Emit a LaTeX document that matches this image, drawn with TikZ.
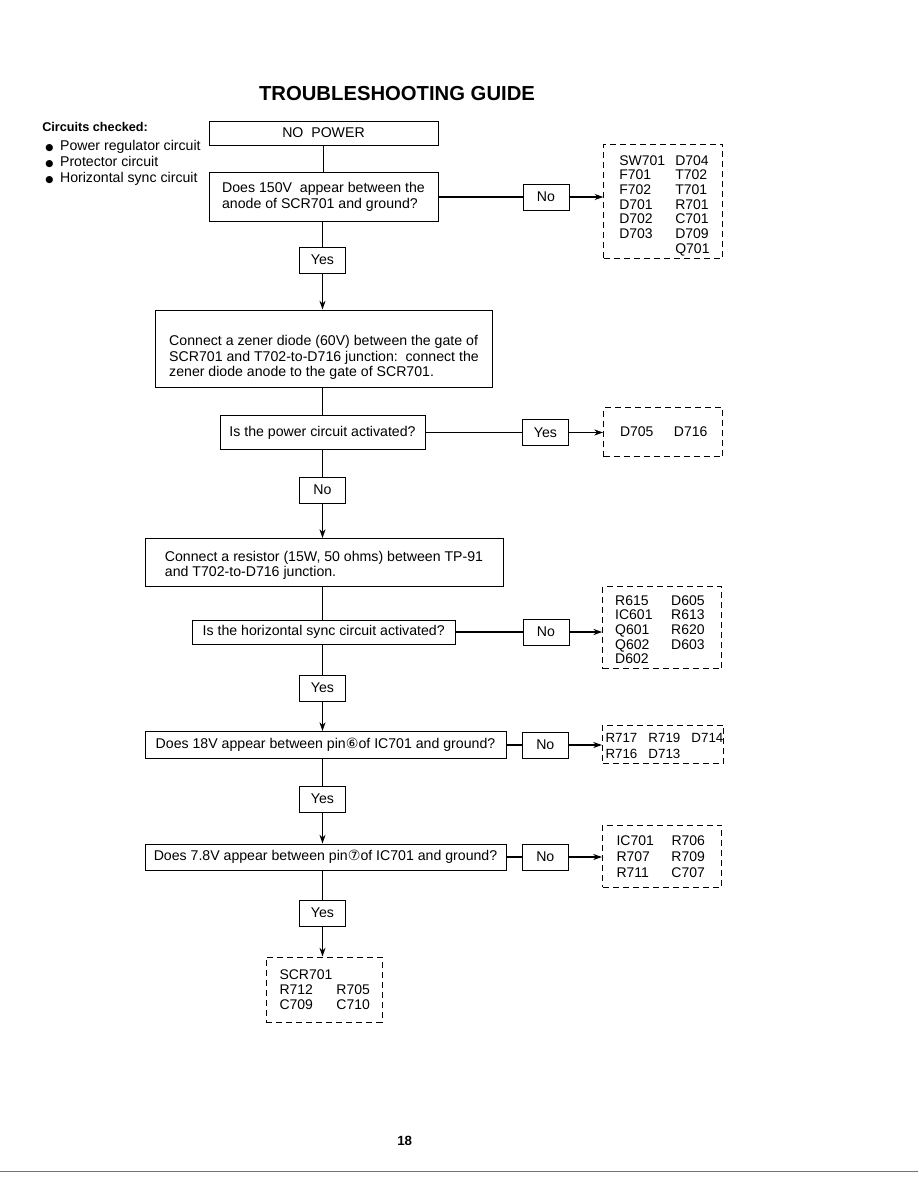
\documentclass[tikz,border=0pt]{standalone}
\usepackage{fontspec}
\setmainfont{Liberation Sans}
\newfontfamily\circfont{DejaVu Sans}
\usepackage{tikz}
\usetikzlibrary{arrows.meta}

\newlength\pxu
\setlength\pxu{0.75pt}
\newcommand\bul{{\circfont\fontsize{7}{7}\selectfont ●}\hspace{5pt}}
\newcommand\sinkby[2]{\raisebox{-#1}[\height][\depth]{#2}}

\begin{document}
\begin{tikzpicture}[x=0.75pt, y=-0.75pt,
  every node/.style={font=\fontsize{10.6}{11.6}\selectfont, inner sep=0pt},
  box/.style={draw, line width=0.75pt},
  ans/.style={draw, line width=0.75pt, minimum width=46\pxu, minimum height=26\pxu},
  parts/.style={draw, line width=0.75pt, dash pattern=on 4.5pt off 3pt, align=left, font=\fontsize{10.5}{11}\selectfont},
  link/.style={line width=1.1pt},
  arr/.style={line width=1.1pt, -{Stealth[length=6.5pt, width=4.5pt]}}]
  \useasboundingbox (0,0) rectangle (918,1188);

  % Heading
  \node[font=\bfseries\fontsize{15.2}{18}\selectfont, anchor=base] (title) at (397,100) {TROUBLESHOOTING GUIDE};
  \node[font=\bfseries\fontsize{9.5}{11}\selectfont, anchor=base west] (checked) at (42,131) {Circuits checked:};
  \node[anchor=base west] (circ1) at (45,150) {\bul Power regulator circuit};
  \node[anchor=base west] (circ2) at (45,166) {\bul Protector circuit};
  \node[anchor=base west] (circ3) at (45,182) {\bul Horizontal sync circuit};

  % Start and 150V check
  \node[box, minimum width=229\pxu, minimum height=24\pxu] (nopower) at (323.5,133) {NO\ \ POWER};
  \node[box, minimum width=229\pxu, minimum height=49\pxu, align=left] (q150) at (323.5,197) {Does 150V\ \ appear between\ the\\anode of SCR701 and ground?};
  \node[ans] (no150) at (546,197) {No};
  \node[parts, minimum width=119\pxu, minimum height=114\pxu, text width=88\pxu] (parts150) at (663.3,201) {\sinkby{4pt}{\begin{tabular}{@{}p{56\pxu}@{}l@{}}
    SW701 & D704\\ F701 & T702\\ F702 & T701\\ D701 & R701\\ D702 & C701\\ D703 & D709\\ & Q701\end{tabular}}};
  \node[ans] (yes150) at (322.5,260) {Yes};

  % Zener diode test
  \node[box, minimum width=337\pxu, minimum height=77\pxu, align=left] (zener) at (324,348.5) {\rule{0pt}{21pt}Connect a zener diode (60V) between the gate of\\SCR701 and T702-to-D716 junction:\ \ connect the\\zener diode anode to the gate of SCR701.};
  \node[box, minimum width=205\pxu, minimum height=34\pxu] (power) at (322.5,432.5) {Is the power circuit activated?};
  \node[ans] (yespow) at (545.5,432.5) {Yes};
  \node[parts, minimum width=119\pxu, minimum height=49\pxu, text width=86\pxu] (partspow) at (663,432.2) {\sinkby{1pt}{\begin{tabular}{@{}p{54\pxu}@{}l@{}}
    D705 & D716\end{tabular}}};
  \node[ans] (nopow) at (322.5,490) {No};

  % Resistor test
  \node[box, minimum width=358\pxu, minimum height=48\pxu, align=left] (resistor) at (324,562.5) {\rule{0pt}{12pt}Connect a resistor (15W, 50 ohms) between TP-91\\and T702-to-D716 junction.};
  \node[box, minimum width=263\pxu, minimum height=24\pxu] (hsync) at (323.7,632) {Is the horizontal sync circuit activated?};
  \node[ans] (nohor) at (546,632) {No};
  \node[parts, minimum width=119\pxu, minimum height=82\pxu, text width=94\pxu] (partshor) at (662.2,627.5) {\sinkby{3pt}{\begin{tabular}{@{}p{56\pxu}@{}l@{}}
    R615 & D605\\ IC601 & R613\\ Q601 & R620\\ Q602 & D603\\ D602 & \end{tabular}}};
  \node[ans] (yeshor) at (322.5,688) {Yes};

  % IC701 pin checks
  \node[box, minimum width=361\pxu, minimum height=27\pxu] (q18) at (325.5,745) {Does 18V appear between pin{\circfont ⑥}of IC701 and ground?};
  \node[ans] (no18) at (545.3,745) {No};
  \node[parts, minimum width=121\pxu, minimum height=38\pxu, text width=115\pxu, font=\fontsize{10}{11.5}\selectfont] (parts18) at (663,744.2) {\sinkby{2.5pt}{\begin{tabular}{@{}p{43\pxu}@{}p{43\pxu}@{}l@{}}
    R717 & R719 & D714\\ R716 & D713 & \end{tabular}}};
  \node[ans] (yes18) at (322.5,799) {Yes};
  \node[box, minimum width=361\pxu, minimum height=26\pxu] (q78) at (325.5,857) {Does 7.8V appear between pin{\circfont ⑦}of IC701 and ground?};
  \node[ans] (no78) at (545.3,857) {No};
  \node[parts, minimum width=119\pxu, minimum height=62\pxu, text width=91\pxu, font=\fontsize{10.5}{11.8}\selectfont] (parts78) at (662,856.2) {\sinkby{1.5pt}{\begin{tabular}{@{}p{55\pxu}@{}l@{}}
    IC701 & R706\\ R707 & R709\\ R711 & C707\end{tabular}}};
  \node[ans] (yes78) at (322.5,913) {Yes};
  \node[parts, minimum width=116\pxu, minimum height=65\pxu, text width=89\pxu] (partsend) at (324,989.5) {\sinkby{1.5pt}{\begin{tabular}{@{}p{57\pxu}@{}l@{}}
    SCR701 & \\ R712 & R705\\ C709 & C710\end{tabular}}};

  % Page footer
  \node[font=\bfseries\fontsize{10}{12}\selectfont, anchor=base] (page) at (404.7,1145) {18};
  \draw[black!55, line width=0.6pt] (0,1171) -- (918,1171);

  % Connections
  \draw[link] (nopower) -- (nopower |- q150.north);
  \draw[link] (q150) -- (no150);
  \draw[arr] (no150) -- (no150 -| parts150.west);
  \draw[link] (yes150 |- q150.south) -- (yes150);
  \draw[arr] (yes150) -- (yes150 |- zener.north);
  \draw[link] (power |- zener.south) -- (power);
  \draw[link] (power) -- (yespow);
  \draw[arr] (yespow) -- (yespow -| partspow.west);
  \draw[link] (power) -- (nopow);
  \draw[arr] (nopow) -- (nopow |- resistor.north);
  \draw[link] (nopow |- resistor.south) -- (nopow |- hsync.north);
  \draw[link] (hsync) -- (nohor);
  \draw[arr] (nohor) -- (nohor -| partshor.west);
  \draw[link] (yeshor |- hsync.south) -- (yeshor);
  \draw[arr] (yeshor) -- (yeshor |- q18.north);
  \draw[link] (q18) -- (no18);
  \draw[arr] (no18) -- (no18 -| parts18.west);
  \draw[link] (yes18 |- q18.south) -- (yes18);
  \draw[arr] (yes18) -- (yes18 |- q78.north);
  \draw[link] (q78) -- (no78);
  \draw[arr] (no78) -- (no78 -| parts78.west);
  \draw[link] (yes78 |- q78.south) -- (yes78);
  \draw[arr] (yes78) -- (yes78 |- partsend.north);
\end{tikzpicture}
\end{document}
